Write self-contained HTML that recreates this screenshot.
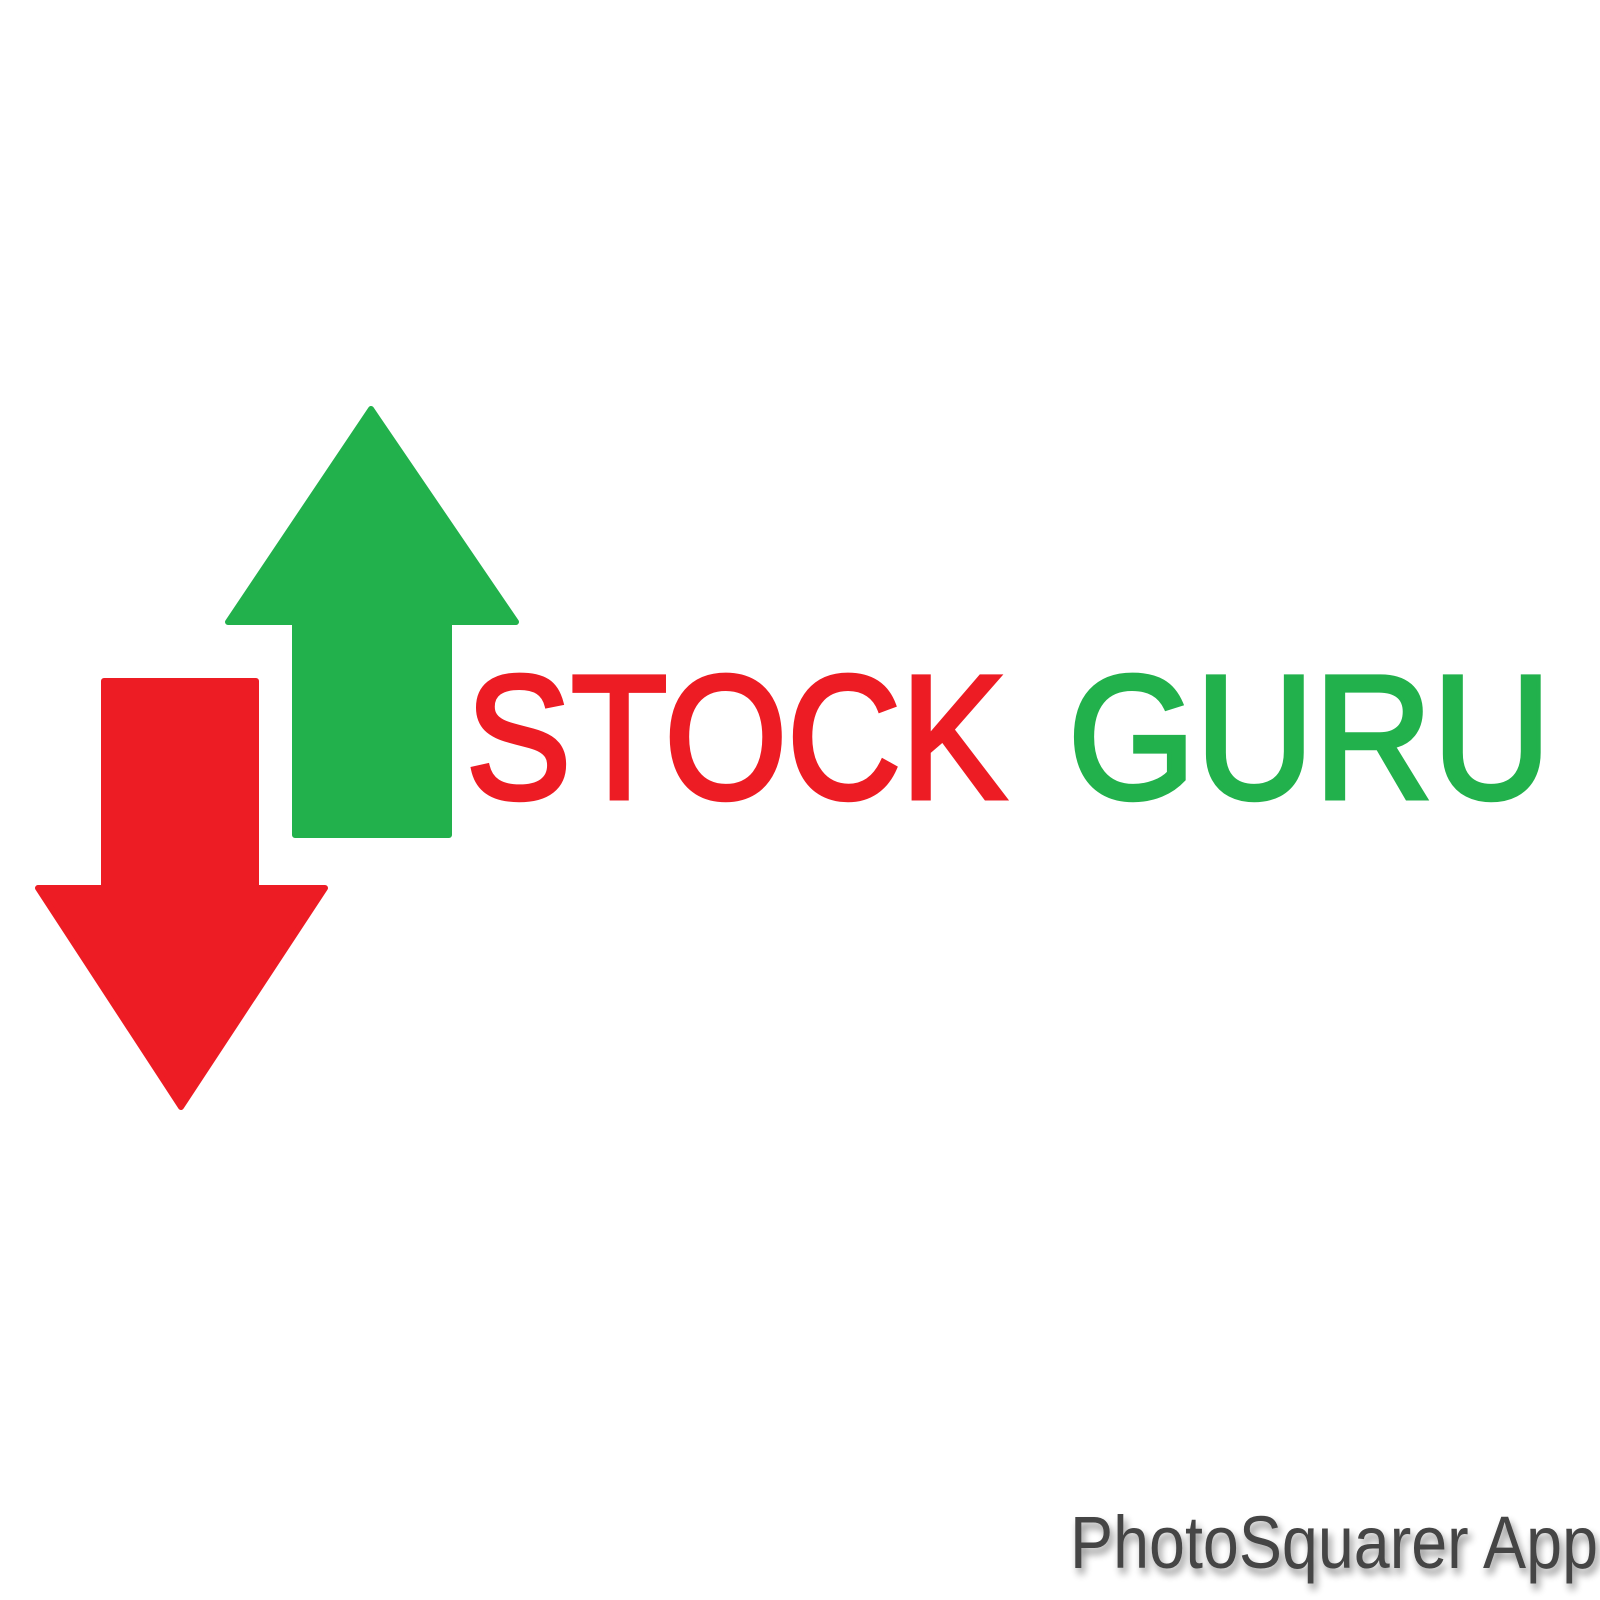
<!DOCTYPE html>
<html><head><meta charset="utf-8"><style>
html,body{margin:0;padding:0;background:#fff;width:1600px;height:1600px;overflow:hidden}
</style></head><body>
<svg width="1600" height="1600" viewBox="0 0 1600 1600">
<defs><filter id="sh" x="-10%" y="-50%" width="120%" height="200%"><feGaussianBlur in="SourceAlpha" stdDeviation="4"/><feOffset dx="3" dy="6"/><feComponentTransfer><feFuncA type="linear" slope="0.45"/></feComponentTransfer><feMerge><feMergeNode/><feMergeNode in="SourceGraphic"/></feMerge></filter></defs>
<rect width="1600" height="1600" fill="#fff"/>
<polygon fill="#22b14c" stroke="#22b14c" stroke-width="6" stroke-linejoin="round"
 points="371,409 516,622 449,622 449,835 295,835 295,622 228,622"/>
<polygon fill="#ed1c24" stroke="#ed1c24" stroke-width="6" stroke-linejoin="round"
 points="104,681 256,681 256,888 325,888 181,1107 38,888 104,888"/>
<text x="466" y="798" font-family="'Liberation Sans',sans-serif" font-size="176" fill="#ed1c24" stroke="#ed1c24" stroke-width="5" textLength="540" lengthAdjust="spacingAndGlyphs">STOCK</text>
<text x="1068" y="798" font-family="'Liberation Sans',sans-serif" font-size="176" fill="#22b14c" stroke="#22b14c" stroke-width="5" textLength="483" lengthAdjust="spacingAndGlyphs">GURU</text>
<text x="1070" y="1568" font-family="'Liberation Sans',sans-serif" font-size="74" fill="#444" filter="url(#sh)" textLength="528" lengthAdjust="spacingAndGlyphs">PhotoSquarer App</text>
</svg>
</body></html>
